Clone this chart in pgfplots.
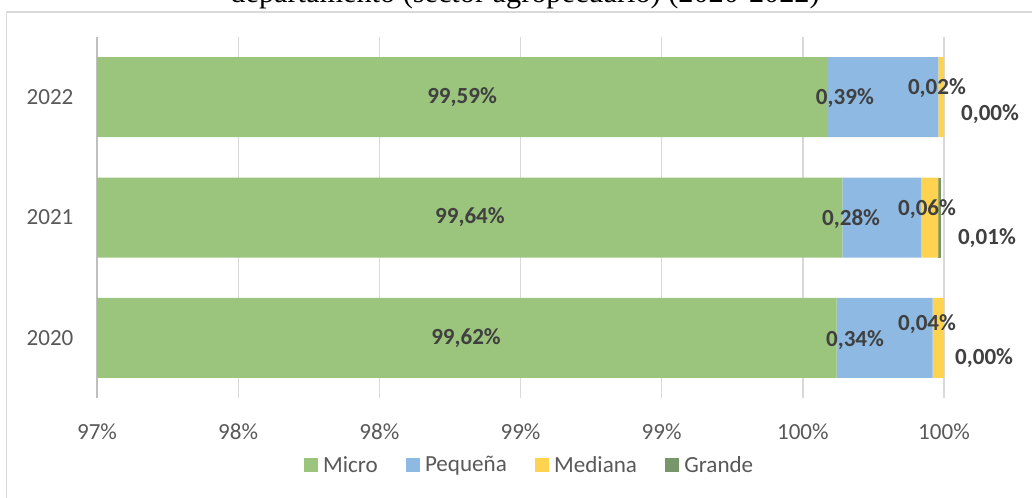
\documentclass[border=0pt]{standalone}
\usepackage{fontspec}
\setmainfont{Carlito}
\newfontfamily\titlefont{Liberation Serif}
\usepackage{pgfplots}
\pgfplotsset{compat=1.18}

\definecolor{cMicro}{HTML}{9BC47D}
\definecolor{cPeq}{HTML}{8DB9E2}
\definecolor{cMed}{HTML}{FFD34F}
\definecolor{cGrande}{HTML}{77966A}
\definecolor{cFrame}{HTML}{D9D9D9}
\definecolor{cAxis}{HTML}{BFBFBF}
\definecolor{cTick}{HTML}{595959}
\definecolor{cLab}{HTML}{404040}

\pgfplotsset{
  sqleg/.style={legend image code/.code={\fill[##1] (0pt,-5.25pt) rectangle (10.5pt,5.25pt);}},
}
\tikzset{lbl/.style={font=\bfseries\fontsize{17.3}{20}\selectfont, text=cLab}}

\begin{document}
\begin{tikzpicture}[x=0.75pt,y=0.75pt]
\useasboundingbox (0,0) rectangle (1032,497);
\draw[cFrame, line width=1pt] (6.5,-20) -- (6.5,485) -- (1050,485);
\node[font=\titlefont\fontsize{22.7}{26}\selectfont, anchor=base, inner sep=0pt] at (525,494.5)
  {departamento (sector agropecuario) (2020-2022)};

\begin{axis}[
  at={(72.75pt,74.25pt)}, anchor=south west,
  width=635.25pt, height=270.75pt, scale only axis,
  xbar stacked, bar width=60pt,
  xmin=97, xmax=100, ymin=-0.5, ymax=2.5,
  enlargelimits=false,
  clip mode=individual,
  axis x line*=bottom, axis y line*=left,
  x axis line style={draw=none},
  y axis line style={cAxis, line width=1pt},
  xmajorgrids, grid style={cFrame, line width=1pt},
  major tick length=0pt,
  xtick={97,97.5,98,98.5,99,99.5,100},
  xticklabels={97\%,98\%,98\%,99\%,99\%,100\%,100\%},
  ytick={0,1,2},
  yticklabels={2020,2021,2022},
  tick label style={font=\fontsize{17.3}{20}\selectfont, text=cTick},
  xticklabel style={anchor=center, yshift=-25.5pt},
  yticklabel style={anchor=center, xshift=-35.25pt},
  legend columns=-1,
  legend style={at={(0.511,-0.186)}, anchor=center, draw=none,
    font=\fontsize{17.3}{20}\selectfont, text=cTick,
    /tikz/every odd column/.append style={column sep=2pt},
    /tikz/every even column/.append style={column sep=19pt}},
]
\addplot[fill=cMicro, draw=none, sqleg] coordinates {(99.62,0) (99.64,1) (99.59,2)};
\addplot[fill=cPeq, draw=none, sqleg] coordinates {(0.34,0) (0.28,1) (0.39,2)};
\addplot[fill=cMed, draw=none, sqleg] coordinates {(0.04,0) (0.06,1) (0.02,2)};
\addplot[fill=cGrande, draw=none, sqleg] coordinates {(0.00,0) (0.01,1) (0.00,2)};
\legend{Micro,Pequeña,Mediana,Grande}

% label anchors
\coordinate (a1) at (axis cs:98.293,2);
\coordinate (a2) at (axis cs:99.649,1.992);
\coordinate (a3) at (axis cs:99.975,2.075);
\coordinate (a4) at (axis cs:100.163,1.859);
\coordinate (b1) at (axis cs:98.321,1);
\coordinate (b2) at (axis cs:99.671,0.988);
\coordinate (b3) at (axis cs:99.940,1.071);
\coordinate (b4) at (axis cs:100.152,0.830);
\coordinate (c1) at (axis cs:98.307,0);
\coordinate (c2) at (axis cs:99.685,-0.017);
\coordinate (c3) at (axis cs:99.940,0.116);
\coordinate (c4) at (axis cs:100.142,-0.166);
\end{axis}

\node[lbl] at (a1) {99,59\%};
\node[lbl] at (a2) {0,39\%};
\node[lbl] at (a3) {0,02\%};
\node[lbl] at (a4) {0,00\%};
\node[lbl] at (b1) {99,64\%};
\node[lbl] at (b2) {0,28\%};
\node[lbl] at (b3) {0,06\%};
\node[lbl] at (b4) {0,01\%};
\node[lbl] at (c1) {99,62\%};
\node[lbl] at (c2) {0,34\%};
\node[lbl] at (c3) {0,04\%};
\node[lbl] at (c4) {0,00\%};
\end{tikzpicture}
\end{document}
